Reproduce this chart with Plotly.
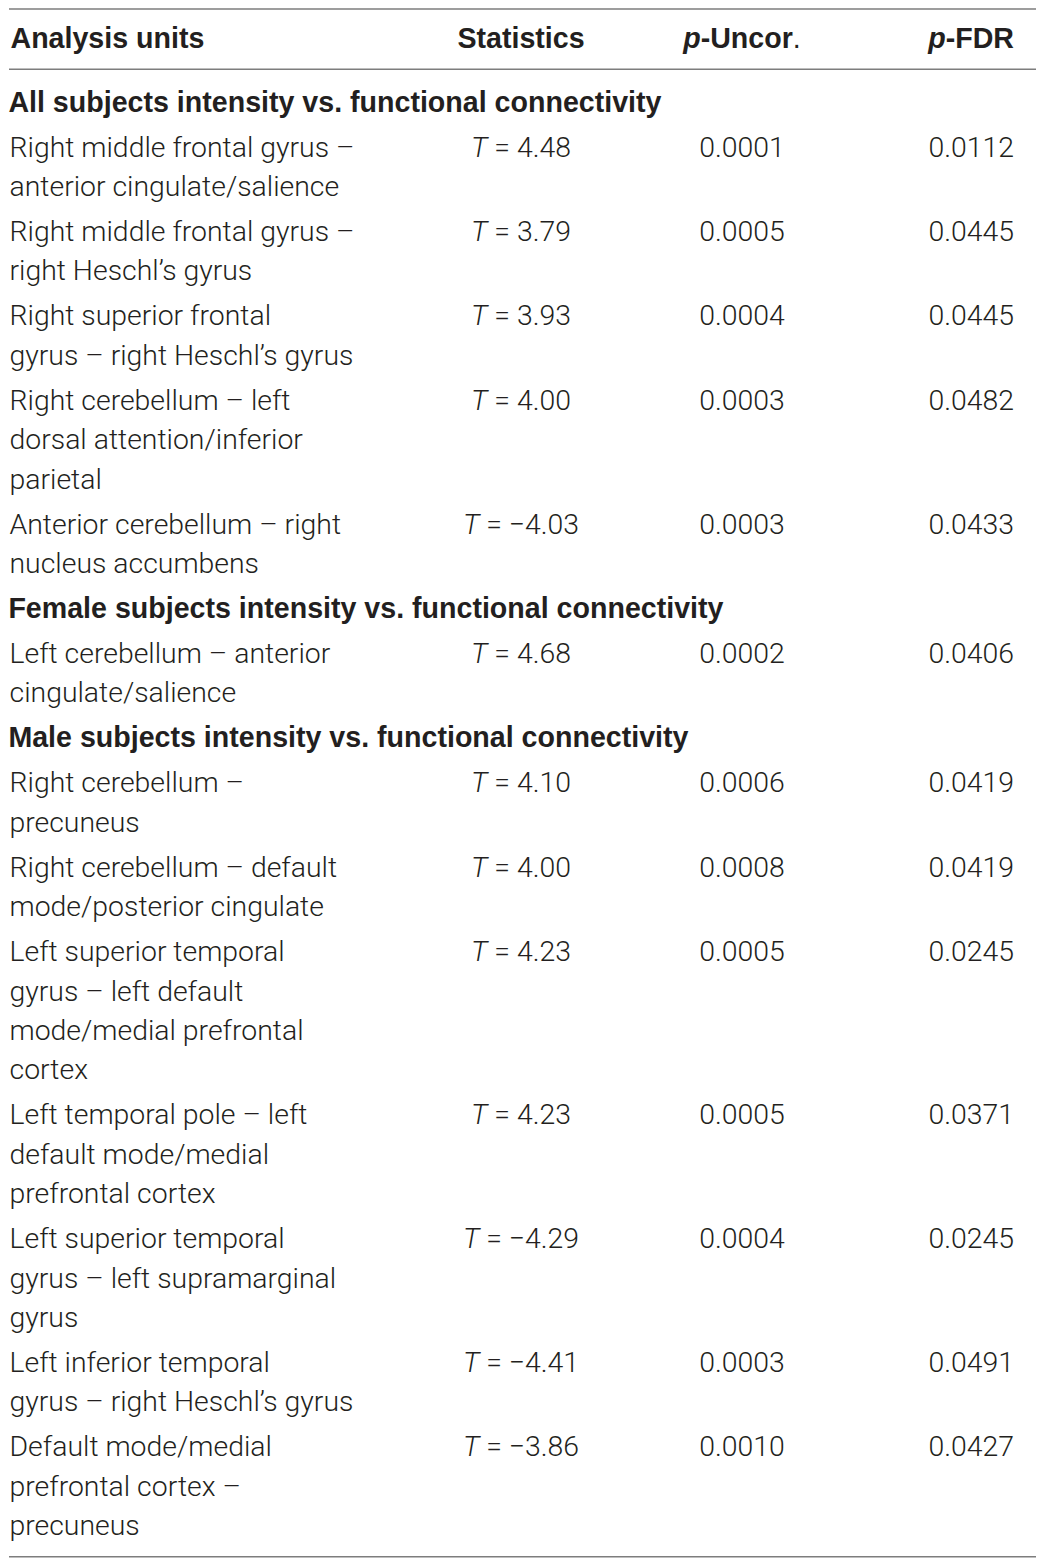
import plotly.graph_objects as go

# ---------------- data ----------------
headers = ["Analysis units", "Statistics", "<i>p</i>-Uncor", "<i>p</i>-FDR"]

sections = [
    "All subjects intensity vs. functional connectivity",
    "Female subjects intensity vs. functional connectivity",
    "Male subjects intensity vs. functional connectivity",
]
section_of_row = [0, 0, 0, 0, 0, 1, 2, 2, 2, 2, 2, 2, 2]

units = [
    ["Right middle frontal gyrus –", "anterior cingulate/salience"],
    ["Right middle frontal gyrus –", "right Heschl’s gyrus"],
    ["Right superior frontal", "gyrus – right Heschl’s gyrus"],
    ["Right cerebellum – left", "dorsal attention/inferior", "parietal"],
    ["Anterior cerebellum – right", "nucleus accumbens"],
    ["Left cerebellum – anterior", "cingulate/salience"],
    ["Right cerebellum –", "precuneus"],
    ["Right cerebellum – default", "mode/posterior cingulate"],
    ["Left superior temporal", "gyrus – left default", "mode/medial prefrontal", "cortex"],
    ["Left temporal pole – left", "default mode/medial", "prefrontal cortex"],
    ["Left superior temporal", "gyrus – left supramarginal", "gyrus"],
    ["Left inferior temporal", "gyrus – right Heschl’s gyrus"],
    ["Default mode/medial", "prefrontal cortex –", "precuneus"],
]
t_stats = [4.48, 3.79, 3.93, 4.00, -4.03, 4.68, 4.10, 4.00, 4.23, 4.23, -4.29, -4.41, -3.86]
p_uncor = ["0.0001", "0.0005", "0.0004", "0.0003", "0.0003", "0.0002", "0.0006",
           "0.0008", "0.0005", "0.0005", "0.0004", "0.0003", "0.0010"]
p_fdr = ["0.0112", "0.0445", "0.0445", "0.0482", "0.0433", "0.0406", "0.0419",
         "0.0419", "0.0245", "0.0371", "0.0245", "0.0491", "0.0427"]

# ---------------- layout constants ----------------
WIN_W, WIN_H = 1044, 1563
PAGE_OFF = 8          # default body margin of the html page
FS = 28.4
FS_B = 28.6
TXT = "#231f20"
RULE = "#7d7d7d"
FONT = "Liberation Sans"
BODY_FONT = "Roboto"
PITCH = 39.4
GAP = 45.0
FIRST_BASE = 110.7
HEAD_BASE = 46.7
MID = 6.2             # baseline -> anchor for "middle" text

X_UNIT, X_SEC, X_HEAD, X_STAT, X_PU, X_FDR = 9.5, 8.4, 10.5, 521, 742, 1014


def fmt_t(v):
    s = f"{abs(v):.2f}"
    return f"<i>T</i> = {'−' if v < 0 else ''}{s}"


sec_x, sec_y, sec_t = [], [], []
u_x, u_y, u_t = [], [], []
s_y, s_t, pu_t, fd_t = [], [], [], []

base = FIRST_BASE - GAP
prev_sec = None
for i, lines in enumerate(units):
    if section_of_row[i] != prev_sec:
        base += GAP
        sec_x.append(X_SEC)
        sec_y.append(base - MID)
        sec_t.append(f"<b>{sections[section_of_row[i]]}</b>")
        prev_sec = section_of_row[i]
    base += GAP
    top = base
    for k, ln in enumerate(lines):
        u_x.append(X_UNIT)
        u_y.append(top + k * PITCH - MID)
        u_t.append(ln)
    s_y.append(top - MID)
    s_t.append(fmt_t(t_stats[i]))
    pu_t.append(p_uncor[i])
    fd_t.append(p_fdr[i])
    base = top + (len(lines) - 1) * PITCH

fig = go.Figure()


def add_text(xs, ys, texts, pos, size=FS, family=FONT, weight=None):
    f = dict(family=family, size=size, color=TXT)
    if weight:
        f["weight"] = weight
    fig.add_trace(go.Scatter(x=xs, y=ys, text=texts, mode="text", textposition=pos,
                             textfont=f, hoverinfo="skip", showlegend=False,
                             cliponaxis=False))


hy = HEAD_BASE - MID
add_text([X_HEAD], [hy], [f"<b>{headers[0]}</b>"], "middle right", FS_B)
add_text([X_STAT], [hy], [f"<b>{headers[1]}</b>"], "middle center", FS_B)
add_text([X_PU], [hy], [f"<b>{headers[2]}</b>."], "middle center", FS_B)
add_text([X_FDR], [hy], [f"<b>{headers[3]}</b>"], "middle left", FS_B)

add_text(sec_x, sec_y, sec_t, "middle right", FS_B)
add_text(u_x, u_y, u_t, "middle right", FS, BODY_FONT, 300)
add_text([X_STAT] * len(s_y), s_y, s_t, "middle center", FS, BODY_FONT, 300)
add_text([X_PU] * len(s_y), s_y, pu_t, "middle center", FS, BODY_FONT, 300)
add_text([X_FDR] * len(s_y), s_y, fd_t, "middle left", FS, BODY_FONT, 300)

# rules (top one sits just inside the drawable page area)
for yy in [9.0, 69.3, 1556.7]:
    fig.add_shape(type="line", x0=9, x1=1039, y0=yy, y1=yy, xref="x", yref="y",
                  line=dict(color=RULE, width=1.6))

fig.update_layout(
    width=WIN_W - PAGE_OFF, height=WIN_H - PAGE_OFF,
    margin=dict(l=0, r=0, t=0, b=0),
    paper_bgcolor="white", plot_bgcolor="white",
    xaxis=dict(range=[PAGE_OFF, WIN_W], visible=False, fixedrange=True),
    yaxis=dict(range=[WIN_H, PAGE_OFF], visible=False, fixedrange=True),
    showlegend=False,
)
fig.write_html("out.html")
